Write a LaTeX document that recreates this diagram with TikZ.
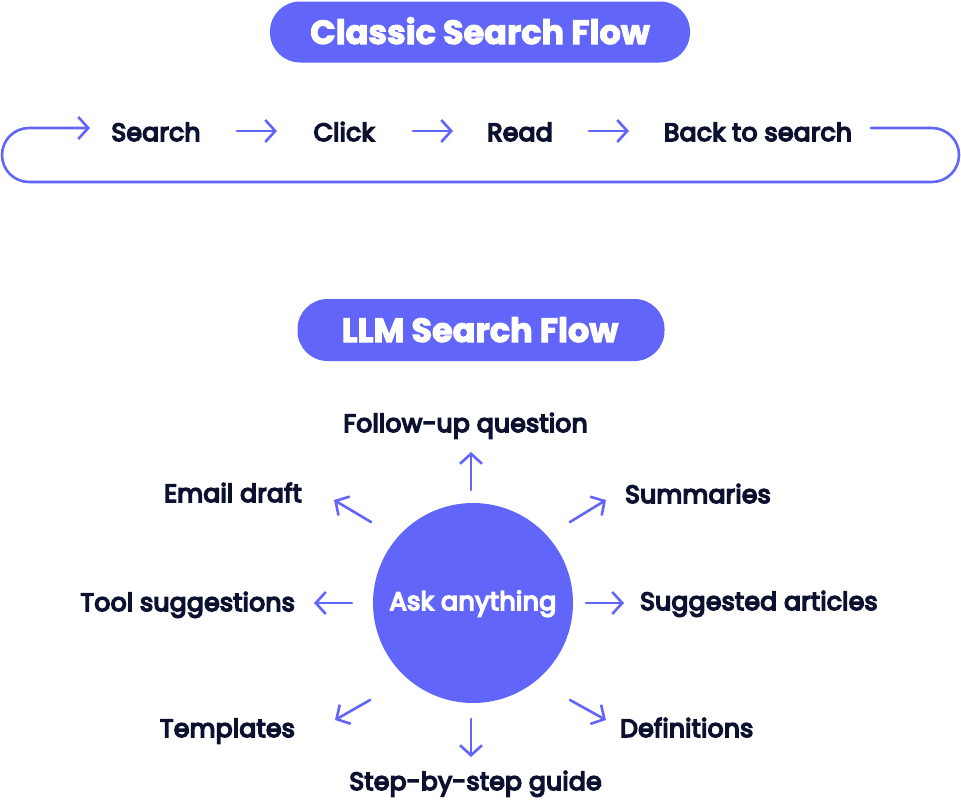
\documentclass[tikz,border=0pt]{standalone}
\usepackage{fontspec}
\setmainfont{Poppins}
\newfontfamily\medfont{Poppins}[FakeBold=6,LetterSpace=1.2]
\newfontfamily\heavyfont{Poppins Bold}[FakeBold=3]
\usetikzlibrary{arrows.meta}
\definecolor{brand}{RGB}{97,101,250}
\definecolor{ink}{RGB}{12,17,48}
\begin{document}
\begin{tikzpicture}[x=1pt,y=-1pt,
  lbl/.style={font=\medfont\fontsize{25}{29}\selectfont, text=ink, inner sep=0pt},
  pilltext/.style={font=\heavyfont\fontsize{33.5}{38}\selectfont, text=white, inner sep=0pt},
  pill/.style={fill=brand, draw=none, rounded corners=30pt},
  flow/.style={draw=brand, line width=2.6pt, line cap=round, line join=round,
    -{Straight Barb[length=10pt,width=22pt,line width=2.6pt]}}]
\useasboundingbox (0,0) rectangle (961,801);

% Classic title
\node[pill, minimum width=420pt, minimum height=61pt] (t1) at (480,32) {};
\node[pilltext, anchor=base] (t1txt) at (480,44) {Classic Search Flow};

% Classic row
\node[lbl, anchor=base] (search) at (156,141) {Search};
\node[lbl, anchor=base] (click) at (344,141) {Click};
\node[lbl, anchor=base] (read) at (520,141) {Read};
\node[lbl, anchor=base] (back) at (758,141) {Back to search};

\coordinate (a1s) at (237,131); \coordinate (a1e) at (277,131);
\coordinate (a2s) at (413,131); \coordinate (a2e) at (453,131);
\coordinate (a3s) at (589,131); \coordinate (a3e) at (629,131);
\draw[flow] (a1s) -- (a1e);
\draw[flow] (a2s) -- (a2e);
\draw[flow] (a3s) -- (a3e);

\coordinate (loopout) at (871,128);
\coordinate (loopin) at (90,128);
\coordinate (lr1) at (959,128); \coordinate (lr2) at (959,182);
\coordinate (ll1) at (2,182); \coordinate (ll2) at (2,128);
\draw[flow, rounded corners=27pt] (loopout) -- (lr1) -- (lr2) -- (ll1) -- (ll2) -- (loopin);

% LLM title
\node[pill, minimum width=367pt, minimum height=62pt] (t2) at (481,330) {};
\node[pilltext, anchor=base] (t2txt) at (480,342) {LLM Search Flow};

% Centre
\node[circle, fill=brand, minimum size=200pt, inner sep=0pt] (ask) at (473,603) {};
\node[lbl, text=white, anchor=base, font=\medfont\fontsize{25.5}{30}\selectfont] (asktxt) at (473,610) {Ask anything};

% Labels
\node[lbl, anchor=base] (follow) at (465.5,432) {Follow-up question};
\node[lbl, anchor=base east] (email) at (302,502) {Email draft};
\node[lbl, anchor=base west] (summ) at (625,503) {Summaries};
\node[lbl, anchor=base east] (tool) at (295,611) {Tool suggestions};
\node[lbl, anchor=base west] (sugg) at (640,610) {Suggested articles};
\node[lbl, anchor=base east] (templ) at (295,737) {Templates};
\node[lbl, anchor=base west] (defs) at (620,737) {Definitions};
\node[lbl, anchor=base] (step) at (475.5,790) {Step-by-step guide};

% Radial arrows
\coordinate (upS) at (471,490); \coordinate (upE) at (471,452);
\coordinate (dnS) at (471,719); \coordinate (dnE) at (471,757);
\coordinate (lfS) at (352,603); \coordinate (lfE) at (314,603);
\coordinate (rtS) at (586,603); \coordinate (rtE) at (624,603);
\coordinate (ulS) at (371,522); \coordinate (ulE) at (334,500);
\coordinate (urS) at (570,522); \coordinate (urE) at (606,500);
\coordinate (dlS) at (370,700); \coordinate (dlE) at (335,720);
\coordinate (drS) at (570,700); \coordinate (drE) at (606,720);
\foreach \d in {up,dn,lf,rt,ul,ur,dl,dr} \draw[flow] (\d S) -- (\d E);
\end{tikzpicture}
\end{document}
